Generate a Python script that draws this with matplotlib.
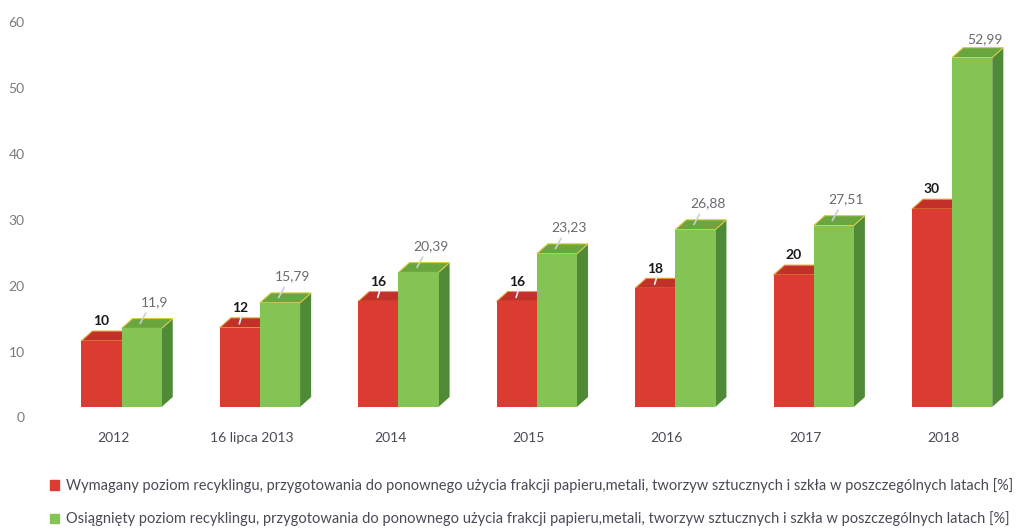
import numpy as np
import matplotlib
matplotlib.use("Agg")
import matplotlib.pyplot as plt
from matplotlib.patches import Patch

years = ["2012", "16 lipca 2013", "2014", "2015", "2016", "2017", "2018"]
required = [10, 12, 16, 16, 18, 20, 30]
achieved = [11.9, 15.79, 20.39, 23.23, 26.88, 27.51, 52.99]
required_labels = ["10", "12", "16", "16", "18", "20", "30"]
achieved_labels = ["11,9", "15,79", "20,39", "23,23", "26,88", "27,51", "52,99"]

legend_labels = [
    "Wymagany poziom recyklingu, przygotowania do ponownego użycia frakcji papieru,metali, tworzyw sztucznych i szkła w poszczególnych latach [%]",
    "Osiągnięty poziom recyklingu, przygotowania do ponownego użycia frakcji papieru,metali, tworzyw sztucznych i szkła w poszczególnych latach [%]",
]

plt.rcParams["font.family"] = ["Lato", "DejaVu Sans"]

RED = dict(front="#dc3b32", top="#c2302a", side="#a82822", edge="#e0a030")
GREEN = dict(front="#84c454", top="#6aa640", side="#4f8a37", edge="#d8cc40")

w = 0.29      # bar width (x units)
shift = 0.06  # bars sit slightly right of the tick
dx, dy = 0.08, 1.5  # 3d depth


def bar3d(ax, x0, v, c):
    x1 = x0 + w
    # side
    ax.fill([x1, x1 + dx, x1 + dx, x1], [0, dy, v + dy, v], color=c["side"], lw=0, zorder=2)
    # top
    ax.fill([x0, x1, x1 + dx, x0 + dx], [v, v, v + dy, v + dy], color=c["top"],
            ec=c["edge"], lw=0.8, zorder=2)
    # front
    ax.fill([x0, x1, x1, x0], [0, 0, v, v], color=c["front"], lw=0, zorder=3)


fig = plt.figure(figsize=(10.18, 5.29), dpi=100)
ax = fig.add_axes([0.0432, 1 - 428 / 529, 0.9519, (428 - 10) / 529])

x = np.arange(len(years))
for i in x:
    xr = i + shift - w
    xg = i + shift
    bar3d(ax, xr, required[i], RED)
    bar3d(ax, xg, achieved[i], GREEN)

    # value labels
    ax.annotate(required_labels[i], (xr + w / 2, required[i] + dy),
                xytext=(0, 7), textcoords="offset points", ha="center", va="center",
                fontsize=10, fontweight="bold", color="#1a1a1a", zorder=5)
    oy = 12 if i < 6 else 6
    ax.annotate(achieved_labels[i], (xg + w / 2, achieved[i] + dy),
                xytext=(9, oy), textcoords="offset points", ha="center", va="center",
                fontsize=10, color="#6a6a70", zorder=5)
    if i < 6:
        ax.annotate("", (xg + w / 2 - 0.02, achieved[i] + 0.4),
                    xytext=(xg + w / 2 + 0.04, achieved[i] + dy + 1.2),
                    arrowprops=dict(arrowstyle="-", color="#c8d0d8", lw=1.2), zorder=5)
    if i in (1, 2, 3, 4):
        ax.annotate("", (xr + w / 2 - 0.01, required[i] + 0.2),
                    xytext=(xr + w / 2 + 0.02, required[i] + dy + 0.8),
                    arrowprops=dict(arrowstyle="-", color="#e8eef4", lw=1.2), zorder=5)

ax.set_xlim(-0.5, 6.5)
ax.set_ylim(-3.2, 60.2)
ticks = np.arange(0, 70, 10)
ax.set_yticks(ticks - 1.6, [str(t) for t in ticks])
ax.set_xticks(x, years)
ax.tick_params(axis="y", length=0, pad=14, labelsize=10, labelcolor="#7a7a80")
ax.tick_params(axis="x", length=0, pad=3, labelsize=10, labelcolor="#4a4a55")
for s in ax.spines.values():
    s.set_visible(False)

handles = [Patch(color=RED["front"]), Patch(color=GREEN["front"])]
fig.legend(handles, legend_labels, loc="lower left", bbox_to_anchor=(0.036, -0.02),
           frameon=False, fontsize=10.55, labelcolor="#4a4a55", handlelength=0.6,
           handleheight=0.6, handletextpad=0.5, labelspacing=1.25)

fig.savefig("out.png", dpi=100)
